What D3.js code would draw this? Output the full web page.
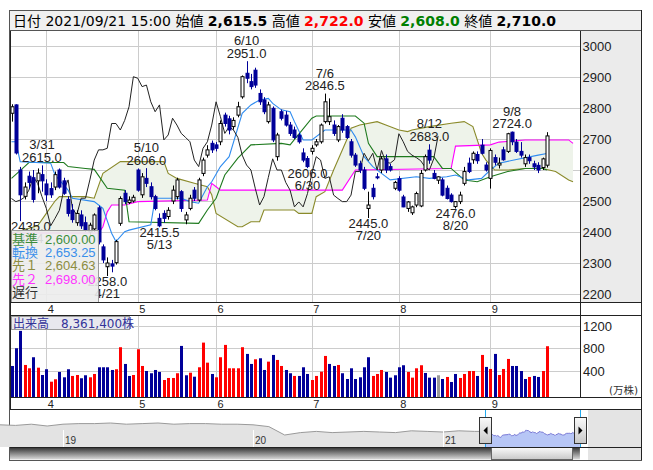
<!DOCTYPE html>
<html><head><meta charset="utf-8">
<script src="https://cdn.jsdelivr.net/npm/d3@7"></script>
<style>body{margin:0;background:#fff}svg{display:block}</style>
</head><body>
<svg id="c" width="653" height="470"></svg>
<script>
// ---------- DATA ----------
const tradingDays = {
  3:[22,23,24,25,26,29,30,31],
  4:[1,2,5,6,7,8,9,12,13,14,15,16,19,20,21,22,23,26,27,28,30],
  5:[6,7,10,11,12,13,14,17,18,19,20,21,24,25,26,27,28,31],
  6:[1,2,3,4,7,8,9,10,11,14,15,16,17,18,21,22,23,24,25,28,29,30],
  7:[1,2,5,6,7,8,9,12,13,14,15,16,19,20,21,26,27,28,29,30],
  8:[2,3,4,5,6,10,11,12,13,16,17,18,19,20,23,24,25,26,27,30,31],
  9:[1,2,3,6,7,8,9,10,13,14,15,16,17,21]
};
const opens = [2783,2810,2600,2515,2580,2575,2565,2585,
 2555,2540,2545,2600,2565,2505,2470,2430,2455,2430,
 2400,2410,2478,2352,2288,2297,2301,2428,2525,2495,
 2500,2600,2520,2573,2546,2514,2444,2460,2450,2500,
 2514,2530,2439,2476,2535,2503,2589,2648,2686,2681,
 2691,2777,2765,2740,2777,2836,2912,2885,2922,2847,
 2826,2756,2799,2643,2788,2777,2745,2729,2712,2655,
 2637,2660,2681,2691,2756,2756,2745,2697,2767,2740,
 2691,2648,2620,2600,2476,2541,2578,2600,2636,2611,
 2541,2572,2513,2476,2462,2487,2484,2600,2664,2589,
 2567,2568,2541,2519,2482,2498,2557,2622,2633,2650,
 2680,2616,2573,2640,2616,2665,2660,2722,2690,2660,
 2620,2640,2620,2615,2608,2615.5];
const highs = [2812,2812,2610,2560,2595,2600,2605,2615,
 2570,2560,2595,2605,2575,2515,2490,2470,2470,2450,
 2430,2460,2485,2360,2318,2310,2375,2515,2535,2515,
 2520,2605,2590,2606,2560,2520,2460,2470,2480,2550,
 2575,2535,2465,2520,2545,2575,2640,2680,2695,2690,
 2760,2785,2775,2770,2820,2905,2951,2910,2930,2860,
 2835,2820,2805,2720,2795,2790,2755,2740,2720,2670,
 2645,2680,2700,2750,2846.5,2831,2760,2745,2780,2745,
 2700,2655,2630,2610,2530,2555,2590,2645,2650,2620,
 2565,2580,2520,2500,2485,2530,2600,2650,2683,2600,
 2580,2575,2550,2525,2500,2530,2610,2640,2660,2660,
 2700,2625,2670,2650,2640,2675,2720,2724,2700,2690,
 2650,2650,2630,2625,2640,2722];
const lows = [2756,2650,2435,2505,2540,2495,2525,2530,
 2500,2510,2535,2540,2520,2450,2430,2420,2410,2400,
 2390,2400,2360,2300,2258,2270,2295,2420,2490,2490,
 2495,2530,2510,2545,2505,2470,2415.5,2430,2440,2490,
 2505,2465,2425,2470,2500,2498,2580,2640,2655,2660,
 2680,2740,2715,2730,2770,2830,2880,2860,2865,2810,
 2780,2750,2690,2630,2760,2740,2710,2700,2685,2625,
 2606,2650,2675,2685,2750,2745,2710,2690,2720,2700,
 2640,2610,2590,2535,2445,2505,2570,2590,2590,2595,
 2535,2530,2480,2465,2455,2480,2480,2595,2620,2570,
 2555,2515,2505,2495,2476,2490,2550,2590,2620,2620,
 2650,2595,2540,2615,2605,2630,2655,2680,2655,2640,
 2610,2620,2600,2590,2600,2608];
const closes = [2804,2655,2520,2545,2560,2505,2590,2565,
 2520,2520,2585,2545,2525,2460,2440,2460,2420,2405,
 2422,2455,2368,2310,2300,2290,2369,2508,2498,2503,
 2512,2535,2578,2557,2514,2476,2420,2444,2470,2535,
 2568,2476,2455,2509,2509,2568,2632,2665,2665,2670,
 2750,2750,2729,2760,2804,2901,2896,2869,2874,2820,
 2788,2810,2697,2713,2767,2745,2718,2705,2691,2632,
 2611,2670,2691,2745,2820,2772,2718,2740,2729,2705,
 2648,2616,2600,2541,2487,2514,2576,2636,2600,2600,
 2560,2535,2481,2497,2481,2524,2589,2643,2632,2573,
 2578,2519,2508,2498,2498,2519,2595,2595,2654,2630,
 2654,2600,2663,2625,2622,2633,2717,2691,2660,2648,
 2640,2630,2610,2600,2636,2710];
// volume in 万株, colour code r=up b=down g=unchanged
const volumes = [485,800,1108,503,444,640,455,325,
 427,206,249,379,284,427,308,325,267,320,
 284,343,462,462,462,414,427,818,521,308,
 325,782,485,396,356,414,379,236,272,272,
 356,841,320,366,295,462,900,544,343,284,
 640,859,444,444,444,818,699,521,604,622,
 414,562,681,592,485,414,356,308,308,462,
 343,236,308,384,663,521,485,503,356,254,
 444,254,284,462,640,308,343,414,379,278,
 320,462,498,379,278,444,498,361,278,278,
 320,254,290,201,343,272,343,396,396,308,
 681,468,432,699,325,432,610,485,485,396,
 254,290,308,290,396,836];
const volColors = ["b","b","b","r","r","b","r","b",
 "b","r","r","b","b","b","r","r","b","b",
 "r","r","b","b","b","b","r","r","b","b",
 "r","r","r","b","b","b","b","r","r","r",
 "r","b","b","r","b","r","r","r","b","r",
 "r","r","r","r","r","r","b","b","r","b",
 "b","r","b","r","r","b","b","r","b","b",
 "b","r","r","r","r","b","b","r","b","b",
 "b","b","b","b","b","r","r","r","b","b",
 "b","b","b","r","r","r","r","b","b","b",
 "g","b","r","b","b","r","r","r","r","b",
 "r","b","r","b","r","r","r","b","b","b",
 "b","r","b","b","r","r"];
// Ichimoku lines: [trading-day index from 2021/4/1, value]
const tenkan = [[-8,2691],[-7,2691],[-6,2627],[1,2622],[2,2584],[5,2535],[6,2509],[11,2498],[13,2476],[15,2396],[16,2369],[18,2401],[19,2406],[24,2423],[25,2509],[31,2509],[33,2498],[35,2493],[37,2546],[38,2562],[40,2611],[42,2643],[45,2783],[47,2810],[49,2826],[51,2831],[52,2815],[54,2794],[56,2788],[57,2756],[59,2697],[61,2697],[64,2729],[70,2729],[71,2707],[73,2643],[75,2611],[77,2589],[79,2568],[85,2578],[88,2573],[92,2578],[94,2584],[97,2568],[100,2573],[102,2600],[104,2622],[108,2634],[113,2648],[115,2653.25]];
const kijun = [[-8,2573],[-5,2611],[-4,2624],[4,2624],[5,2611],[9,2605],[11,2602],[14,2541],[18,2535],[19,2433],[35,2428],[37,2471],[39,2509],[41,2584],[44,2638],[47,2681],[54,2686],[56,2681],[61,2767],[62,2774],[71,2774],[73,2751],[74,2686],[76,2643],[89,2643],[91,2605],[93,2605],[96,2568],[99,2562],[102,2578],[106,2595],[110,2605],[114,2605],[115,2600]];
const spanA = [[-8,2395],[-2,2420],[-1,2440],[0,2460],[2,2500],[3,2514],[9,2514],[11,2509],[13,2589],[17,2627],[27,2627],[28,2589],[30,2573],[34,2557],[37,2546],[38,2520],[39,2460],[44,2417],[45,2417],[47,2433],[49,2433],[50,2471],[57,2471],[58,2460],[61,2460],[62,2514],[64,2530],[66,2600],[67,2632],[69,2697],[70,2735],[72,2745],[76,2756],[78,2745],[81,2729],[83,2724],[84,2729],[88,2740],[93,2751],[96,2756],[98,2740],[100,2654],[101,2632],[103,2600],[106,2600],[110,2605],[114,2605],[117,2595],[120,2568],[121,2562]];
const spanB = [[-8,2397],[12,2397],[13,2417],[14,2465],[15,2487],[18,2487],[21,2498],[37,2503],[38,2557],[39,2546],[40,2535],[68,2535],[71,2600],[93,2605],[94,2677],[102,2681],[104,2690],[110,2697],[120,2697],[121,2686]];
const priceTicks = [2200,2300,2400,2500,2600,2700,2800,2900,3000];
const volTicks = [400,800,1200];
const highMarks = [[-1,2615],[23,2606],[46,2951],[64,2846.5],[88,2683],[107,2724]];
const lowMarks = [[-6,2435],[14,2258],[26,2415.5],[60,2606],[74,2445],[94,2476]];
const legendRows = [["基準","2,600.00","#3c8c3c"],["転換","2,653.25","#3a8eea"],["先１","2,604.63","#8c8c40"],["先２","2,698.00","#ff33ff"],["遅行","","#333333"]];
const header = [["日付 2021/09/21 15:00 ","normal","#000"],["始値 ","normal","#000"],["2,615.5","bold","#000"],[" 高値 ","normal","#000"],["2,722.0","bold","#ff0000"],[" 安値 ","normal","#000"],["2,608.0","bold","#008000"],[" 終値 ","normal","#000"],["2,710.0","bold","#000"]];
const volumeTitle = "出来高　8,361,400株";
// navigator: monthly closes (start of month) 2018/09 .. 2021/03
const navMonths = ["2018-09","2018-10","2018-11","2018-12","2019-01","2019-02","2019-03","2019-04","2019-05","2019-06","2019-07","2019-08","2019-09","2019-10","2019-11","2019-12","2020-01","2020-02","2020-03","2020-04","2020-05","2020-06","2020-07","2020-08","2020-09","2020-10","2020-11","2020-12","2021-01","2021-02","2021-03"];
const navValues = [3350,3300,3400,3250,3400,3450,3450,3500,3400,3450,3500,3400,3450,3450,3400,3400,3350,3200,2500,2700,2800,2700,2750,2800,2750,2700,2850,2800,2750,2850,2800];
const navYears = [2019,2020,2021];

// ---------- BUILD ----------
const dates = [];
Object.keys(tradingDays).forEach(m => tradingDays[m].forEach(d => dates.push({m:+m,d})));
const bars = dates.map((dt,k)=>({i:k-8, m:dt.m, d:dt.d, label:dt.m+"/"+dt.d,
  o:opens[k],h:highs[k],l:lows[k],c:closes[k],v:volumes[k],vc:volColors[k]}));

const svg = d3.select("#c");
const FONT = "'Liberation Sans', Arial, 'Noto Sans CJK JP', sans-serif";
const FONT2 = "'DejaVu Sans', 'Noto Sans CJK JP', sans-serif";
const L=11, R=580, T=31, B=302, RE=641;
const x = d3.scaleLinear().domain([-8,115]).range([11.5,546.9]);
const y = d3.scaleLinear().domain([2200,3000]).range([294,46]);
const yv = d3.scaleLinear().domain([0,1200]).range([393.3,325.7]);

svg.append("rect").attr("x",9.5).attr("y",10.5).attr("width",632).attr("height",450).attr("fill","#fff").attr("stroke","#555");
svg.append("rect").attr("x",9.5).attr("y",10.5).attr("width",632).attr("height",20).attr("fill","#f0f0f0").attr("stroke","#555");
const ht = svg.append("text").attr("x",13).attr("y",25.5).attr("font-family",FONT2).attr("font-size",14).attr("xml:space","preserve");
header.forEach(h=>ht.append("tspan").text(h[0]).attr("font-weight",h[1]).attr("fill",h[2]));

svg.append("rect").attr("x",R).attr("y",T).attr("width",RE-R).attr("height",B-T).attr("fill","#ebebeb");

const defs = svg.append("defs");
defs.append("clipPath").attr("id","mclip").append("rect").attr("x",L).attr("y",T).attr("width",R-L).attr("height",B-T);
defs.append("clipPath").attr("id","vclip").append("rect").attr("x",L).attr("y",315).attr("width",R-L).attr("height",82);

const g = svg.append("g").attr("clip-path","url(#mclip)");
const monthStarts = [];
bars.forEach((b,k)=>{ if(k>0 && b.m!==bars[k-1].m) monthStarts.push(b); });

g.selectAll(".hg").data(priceTicks).join("line").attr("x1",L).attr("x2",R)
  .attr("y1",d=>Math.round(y(d))+0.5).attr("y2",d=>Math.round(y(d))+0.5).attr("stroke","#cccccc");
g.selectAll(".vg").data(monthStarts).join("line").attr("y1",T).attr("y2",B)
  .attr("x1",d=>Math.round(x(d.i))+0.5).attr("x2",d=>Math.round(x(d.i))+0.5).attr("stroke","#cccccc");

// cloud
const pA = spanA.map(p=>[x(p[0]),y(p[1])]);
const pB = spanB.map(p=>[x(p[0]),y(p[1])]);
g.append("path").attr("d","M"+pA.concat(pB.slice().reverse()).map(p=>p.join(",")).join("L")+"Z")
  .attr("fill","#eef3ea").attr("stroke","none");
const line = d3.line().x(p=>x(p[0])).y(p=>y(p[1]));
g.append("path").attr("d",line(spanA)).attr("fill","none").attr("stroke","#8a8a2a").attr("stroke-width",1.1);
g.append("path").attr("d",line(spanB)).attr("fill","none").attr("stroke","#ff00ff").attr("stroke-width",1.1);
g.append("path").attr("d",line(kijun)).attr("fill","none").attr("stroke","#1e7a1e").attr("stroke-width",1.1);
g.append("path").attr("d",line(tenkan)).attr("fill","none").attr("stroke","#2f8cf0").attr("stroke-width",1.1);
const chik = bars.filter(b=>b.i-25>=-8).map(b=>[b.i-25,b.c]);
g.append("path").attr("d",line(chik)).attr("fill","none").attr("stroke","#222").attr("stroke-width",1);

const BLUE="#000099";
const cg = g.append("g");
bars.forEach(b=>{
  const up = b.c>=b.o;
  const cx = Math.round(x(b.i))+0.5;
  const col = up?"#000":BLUE;
  cg.append("line").attr("x1",cx).attr("x2",cx).attr("y1",y(b.h)).attr("y2",y(b.l)).attr("stroke",col);
  const y1 = y(Math.max(b.o,b.c)), y2 = y(Math.min(b.o,b.c));
  cg.append("rect").attr("x",cx-1.5).attr("y",y1).attr("width",3).attr("height",Math.max(1,y2-y1))
    .attr("fill",up?"#fff":BLUE).attr("stroke",col).attr("stroke-width",1);
});

const ag = g.append("g").attr("font-family",FONT).attr("font-size",13).attr("fill","#222");
function placeLabel(i, lines, baseY){
  const t = ag.append("text").attr("text-anchor","middle");
  lines.forEach((s,k)=>t.append("tspan").attr("x",0).attr("y",baseY+k*12.5).text(s));
  const w = t.node().getBBox().width;
  let cx = x(i); cx = Math.max(L+w/2, Math.min(R-w/2, cx));
  t.selectAll("tspan").attr("x",cx);
}
highMarks.forEach(([i,p])=>{ const b=bars[i+8]; placeLabel(i,[b.label,p.toFixed(1)], y(p)-16); });
lowMarks.forEach(([i,p])=>{ const b=bars[i+8]; placeLabel(i,[p.toFixed(1),b.label], y(p)+9.5); });

const lg = g.append("g");
lg.append("rect").attr("x",L+0.5).attr("y",230.5).attr("width",87).attr("height",80).attr("fill","#ececec").attr("fill-opacity",0.9).attr("stroke","#9a9a9a");
legendRows.forEach((r,k)=>{
  lg.append("text").attr("x",12).attr("y",243.5+k*13.4).attr("font-family",FONT).attr("font-size",13).attr("fill",r[2]).text(r[0]);
  lg.append("text").attr("x",45).attr("y",243.5+k*13.4).attr("font-family",FONT).attr("font-size",13).attr("fill",r[2]).text(r[1]);
});

svg.selectAll(".pl").data(priceTicks).join("text").attr("x",582.5).attr("y",d=>y(d)+5)
  .attr("font-family",FONT).attr("font-size",13).attr("fill","#222").text(d=>d);

function monthStrip(yTop){
  svg.selectAll(null).data(monthStarts).join("text").attr("x",d=>x(d.i)+4.5).attr("y",yTop+10.5)
    .attr("text-anchor","middle").attr("font-family",FONT).attr("font-size",11).attr("fill","#222").text(d=>d.m);
}
monthStrip(302); monthStrip(397);

const vg = svg.append("g").attr("clip-path","url(#vclip)");
vg.selectAll(".vh").data(volTicks).join("line").attr("x1",L).attr("x2",R)
  .attr("y1",d=>Math.round(yv(d))+0.5).attr("y2",d=>Math.round(yv(d))+0.5).attr("stroke","#cccccc");
vg.selectAll(".vv").data(monthStarts).join("line").attr("y1",315).attr("y2",397)
  .attr("x1",d=>Math.round(x(d.i))+0.5).attr("x2",d=>Math.round(x(d.i))+0.5).attr("stroke","#cccccc");
const VC = {r:"#ff0000",b:BLUE,g:"#999999"};
vg.selectAll(".vb").data(bars).join("rect").attr("x",d=>Math.round(x(d.i))-1).attr("width",3)
  .attr("y",d=>yv(d.v)).attr("height",d=>397-yv(d.v)).attr("fill",d=>VC[d.vc]);
svg.append("rect").attr("x",L+0.5).attr("y",316.5).attr("width",118).attr("height",13).attr("fill","#e8e8ee").attr("stroke","#9a9a9a");
svg.append("text").attr("x",13).attr("y",327.5).attr("font-family",FONT2).attr("font-size",12).attr("fill","#333399").text(volumeTitle);
svg.selectAll(".vl").data(volTicks).join("text").attr("x",583).attr("y",d=>yv(d)+5)
  .attr("font-family",FONT).attr("font-size",13).attr("fill","#222").text(d=>d);
svg.append("text").attr("x",609).attr("y",393.5).attr("font-family",FONT2).attr("font-size",10.5).attr("fill","#333").text("(万株)");

[[10,302.5,642,302.5],[10,315.5,642,315.5],[10,397.5,642,397.5],[10,409.5,642,409.5],[10.5,31,10.5,409],[580.5,31,580.5,397],[641.5,10,641.5,460]]
  .forEach(l=>svg.append("line").attr("x1",l[0]).attr("y1",l[1]).attr("x2",l[2]).attr("y2",l[3]).attr("stroke","#222"));

// ---------- NAVIGATOR ----------
const nx = d3.scaleLinear().domain([2020,2021]).range([253,443]);
const ny = d3.scaleLinear().domain([1500,4500]).range([447,411]);
const navHist = navMonths.map((s,k)=>{const [yy,mm]=s.split("-").map(Number); return [yy+(mm-1)/12, navValues[k]];});
function tOf(b){ const dt=new Date(2021,b.m-1,b.d); const s=new Date(2021,0,1); return 2021+(dt-s)/864e5/365; }
const navSel = bars.map(b=>[tOf(b), b.c]);
svg.append("rect").attr("x",10).attr("y",410).attr("width",631).attr("height",37).attr("fill","#fff");
svg.append("rect").attr("x",588).attr("y",410).attr("width",53).attr("height",50).attr("fill","#e4e4e4");
const narea = d3.area().x(p=>nx(p[0])).y0(447).y1(p=>ny(p[1]));
const nline = d3.line().x(p=>nx(p[0])).y(p=>ny(p[1]));
const ng = svg.append("g");
ng.append("path").attr("d",narea(navHist.concat([navSel[0]]))).attr("fill","#e3e3e3");
ng.append("path").attr("d",nline(navHist.concat([navSel[0]]))).attr("fill","none").attr("stroke","#9a9a9a");
ng.append("path").attr("d",narea(navSel)).attr("fill","#b7c6f6");
ng.append("path").attr("d",nline(navSel)).attr("fill","none").attr("stroke","#7a7ad6");
navYears.forEach(yr=>{
  ng.append("line").attr("x1",Math.round(nx(yr))+0.5).attr("x2",Math.round(nx(yr))+0.5).attr("y1",430).attr("y2",447).attr("stroke","#fff");
  ng.append("text").attr("x",nx(yr)+2).attr("y",444).attr("font-family",FONT).attr("font-size",10).attr("fill","#333").text(String(yr).slice(2));
});
const selX0 = nx(navSel[0][0]), selX1 = nx(navSel[navSel.length-1][0]);
[selX0,selX1].forEach(xx=>ng.append("line").attr("x1",Math.round(xx)+0.5).attr("x2",Math.round(xx)+0.5).attr("y1",410).attr("y2",447).attr("stroke","#22aaee"));
const gr = defs.append("linearGradient").attr("id","sb").attr("x1",0).attr("x2",0).attr("y1",0).attr("y2",1);
gr.append("stop").attr("offset","0%").attr("stop-color","#333");
gr.append("stop").attr("offset","100%").attr("stop-color","#dcdcdc");
const gr2 = defs.append("linearGradient").attr("id","th").attr("x1",0).attr("x2",0).attr("y1",0).attr("y2",1);
gr2.append("stop").attr("offset","0%").attr("stop-color","#fafafa");
gr2.append("stop").attr("offset","100%").attr("stop-color","#c8c8c8");
ng.append("rect").attr("x",10).attr("y",447.5).attr("width",selX1-10).attr("height",12).attr("fill","url(#sb)");
ng.append("rect").attr("x",491.5).attr("y",447.5).attr("width",81).attr("height",12).attr("fill","url(#th)").attr("stroke","#666");
[selX0-6, selX1-6].forEach((hx,k)=>{
  ng.append("rect").attr("x",Math.round(hx)+0.5).attr("y",417.5).attr("width",12).attr("height",26).attr("fill","url(#th)").attr("stroke","#333");
  const cx = Math.round(hx)+6.5, cy = 430.5;
  ng.append("path").attr("d", k===0 ? `M${cx+2},${cy-4}L${cx-2},${cy}L${cx+2},${cy+4}Z` : `M${cx-2},${cy-4}L${cx+2},${cy}L${cx-2},${cy+4}Z`).attr("fill","#000");
});
svg.append("line").attr("x1",10).attr("x2",642).attr("y1",447.5).attr("y2",447.5).attr("stroke","#222");
svg.append("line").attr("x1",10).attr("x2",642).attr("y1",460.5).attr("y2",460.5).attr("stroke","#555");
</script>
</body></html>
